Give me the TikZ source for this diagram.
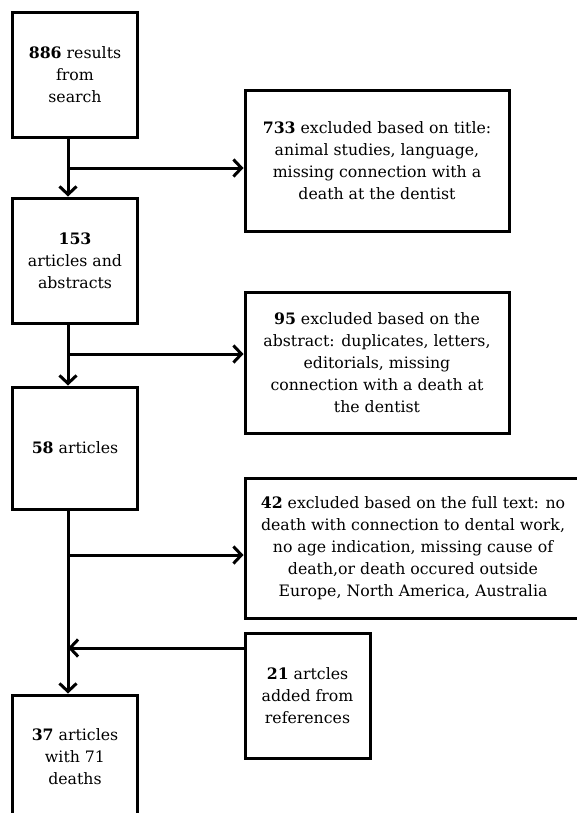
\documentclass[tikz,border=0pt]{standalone}
\usepackage{fontspec}
\setmainfont{DejaVu Serif}
\usepackage{tikz}
\usetikzlibrary{arrows.meta, positioning}

\begin{document}
\begin{tikzpicture}[x=1bp, y=-1bp,
  box/.style={draw, line width=3bp, align=center, inner sep=0pt,
    font=\fontsize{15.8}{22}\selectfont},
  flow/.style={line width=3bp, -{Straight Barb[length=8bp, width=17bp, line width=3bp]}}]
  \useasboundingbox (0,0) rectangle (577,813);

  % Main column (left)
  \node[box, minimum width=124bp, minimum height=124bp] (search) at (75,75)
    {\textbf{886} results\\from\\search};
  \node[box, minimum width=124bp, minimum height=125bp] (abstracts) at (75,260.5)
    {\textbf{153}\\articles and\\abstracts};
  \node[box, minimum width=124bp, minimum height=122bp] (articles) at (75,448)
    {\textbf{58} articles};
  \node[box, minimum width=124bp, minimum height=124bp] (final) at (75,757)
    {\textbf{37} articles\\with 71\\deaths};

  % Exclusions and additions (right)
  \node[box, minimum width=264bp, minimum height=140bp] (title) at (377,161)
    {\textbf{733} excluded based on title:\\animal studies, language,\\missing connection with a\\death at the dentist};
  \node[box, minimum width=264bp, minimum height=141bp] (abstract) at (377,362.5)
    {\textbf{95} excluded based on the\\abstract: duplicates, letters,\\editorials, missing\\connection with a death at\\the dentist};
  \node[box, minimum width=336bp, minimum height=140bp] (fulltext) at (413,548)
    {\textbf{42} excluded based on the full text: no\\death with connection to dental work,\\no age indication, missing cause of\\death,or death occured outside\\Europe, North America, Australia};
  \node[box, minimum width=125bp, minimum height=125bp] (refs) at (307.5,695.5)
    {\textbf{21} artcles\\added from\\references};

  % Spine and branch points
  \coordinate (spine) at (68,0);
  \coordinate (b1) at (68,168);
  \coordinate (b2) at (68,354);
  \coordinate (b3) at (68,555);
  \coordinate (b4) at (68,648);

  \draw[flow] (search.south -| spine) -- (abstracts.north -| spine);
  \draw[flow] (abstracts.south -| spine) -- (articles.north -| spine);
  \draw[flow] (articles.south -| spine) -- (final.north -| spine);

  \draw[flow] (b1) -- (b1 -| title.west);
  \draw[flow] (b2) -- (b2 -| abstract.west);
  \draw[flow] (b3) -- (b3 -| fulltext.west);
  \draw[flow] (b4 -| refs.west) -- (b4);
\end{tikzpicture}
\end{document}
